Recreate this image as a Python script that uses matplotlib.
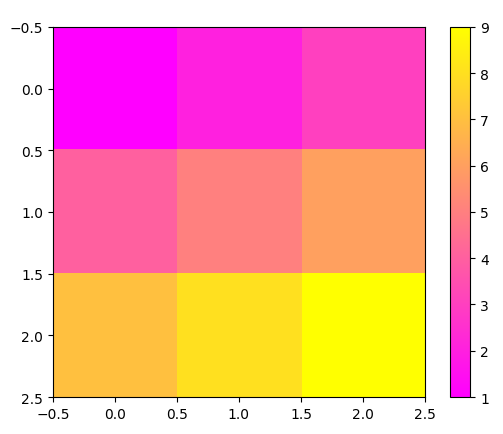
import numpy as np
import matplotlib
matplotlib.use('Agg')
import matplotlib.pyplot as plt

# valores de la cuadrícula 3x3
row0 = [1, 2, 3]
row1 = [4, 5, 6]
row2 = [7, 8, 9]
grid = np.array([row0, row1, row2])

fig = plt.figure(figsize=(5.03, 4.35), dpi=100)
ax = fig.add_axes([0.105, 0.085, 0.740, 0.851])
im = ax.imshow(grid, cmap='spring', aspect='auto')
cax = fig.add_axes([0.895, 0.085, 0.040, 0.851])
fig.colorbar(im, cax=cax)
plt.savefig('out.png', dpi=100)
